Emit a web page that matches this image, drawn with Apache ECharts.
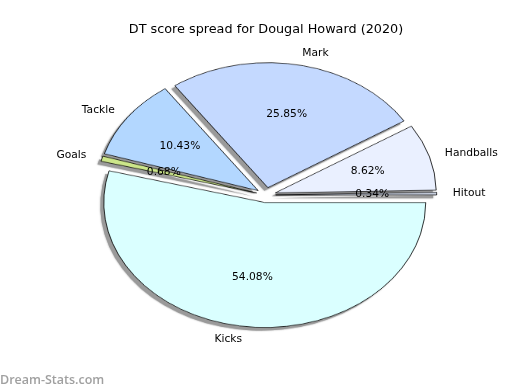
<!DOCTYPE html>
<html>
<head>
<meta charset="utf-8">
<script src="https://cdn.jsdelivr.net/npm/echarts@6/dist/echarts.min.js"></script>
<style>
html,body{margin:0;padding:0;background:#fff;}
#wrap{position:relative;width:520px;height:390px;overflow:hidden;background:#fff;}
#pie{position:absolute;left:0;top:0;width:520px;height:502px;transform:scaleY(0.7764);transform-origin:0 0;}
#txt{position:absolute;left:0;top:0;width:520px;height:390px;}
</style>
</head>
<body>
<div id="wrap"><div id="pie"></div><div id="txt"></div></div>
<script>
// ---- data ----
const categories = ['Hitout', 'Handballs', 'Mark', 'Tackle', 'Goals', 'Kicks'];
const values = [0.34, 8.62, 25.85, 10.43, 0.68, 54.08];
const colors = ['#D0D8E8', '#EAF0FF', '#C4D9FF', '#B3D7FF', '#CCE68A', '#DAFFFF'];
const titleText = 'DT score spread for Dougal Howard (2020)';
const watermark = 'Dream-Stats.com';

// ---- geometry (matplotlib-like elliptical pie) ----
const CX = 266, CY = 195, RX = 161, RY = 125, EXPLODE = 0.06;
const S = RY / RX; // vertical squash of the circular echarts pie
const SHX = -3.5, SHY = 3.2; // shadow offset (screen px)

function pieSeries(isShadow) {
  const style = isShadow
    ? {color: '#9a9a9a', borderWidth: 0, shadowColor: '#9a9a9a', shadowBlur: 2}
    : {borderColor: '#000', borderWidth: 0.8};
  return {
    type: 'pie',
    silent: true,
    z: isShadow ? 1 : 2,
    startAngle: 0,
    clockwise: false,
    center: [CX + (isShadow ? SHX : 0), (CY + (isShadow ? SHY : 0)) / S],
    radius: [0, RX],
    selectedMode: 'multiple',
    selectedOffset: EXPLODE * RX,
    avoidLabelOverlap: false,
    label: {show: false},
    labelLine: {show: false},
    color: isShadow ? ['#9a9a9a'] : colors,
    itemStyle: style,
    select: {itemStyle: style},
    emphasis: {disabled: true},
    data: categories.map((c, i) => ({name: c, value: values[i], selected: true}))
  };
}

const pieChart = echarts.init(document.getElementById('pie'), null, {renderer: 'canvas'});
pieChart.setOption({
  animation: false,
  series: [pieSeries(true), pieSeries(false)]
});

// ---- text overlay (labels computed from data) ----
const total = values.reduce((a, b) => a + b, 0);
const graphics = [];
let acc = 0;
const FONT = 'DejaVu Sans';
categories.forEach((c, i) => {
  const a0 = acc / total * 360;
  acc += values[i];
  const a1 = acc / total * 360;
  const mid = (a0 + a1) / 2 * Math.PI / 180;
  const cs = Math.cos(mid), sn = Math.sin(mid);
  const ox = CX + EXPLODE * RX * cs, oy = CY - EXPLODE * RY * sn;
  graphics.push({
    type: 'text', silent: true,
    x: ox + 1.1 * RX * cs, y: oy - 1.1 * RY * sn,
    style: {text: c, fontFamily: FONT, fontSize: 10.7, fill: '#000',
      align: cs >= 0 ? 'left' : 'right', verticalAlign: 'middle'}
  });
  graphics.push({
    type: 'text', silent: true,
    x: ox + 0.6 * RX * cs, y: oy - 0.6 * RY * sn,
    style: {text: values[i].toFixed(2) + '%', fontFamily: FONT, fontSize: 10.7, fill: '#000',
      align: 'center', verticalAlign: 'middle'}
  });
});
graphics.push({type: 'text', silent: true, x: 266, y: 30,
  style: {text: titleText, fontFamily: FONT, fontSize: 12.8, fill: '#000', align: 'center', verticalAlign: 'middle'}});
graphics.push({type: 'text', silent: true, x: 0, y: 380,
  style: {text: watermark, fontFamily: 'Open Sans', fontSize: 12.5, fontWeight: 600, fill: '#a0a0a0', align: 'left', verticalAlign: 'middle'}});

const txtChart = echarts.init(document.getElementById('txt'), null, {renderer: 'canvas'});
txtChart.setOption({animation: false, graphic: graphics});
</script>
</body>
</html>
